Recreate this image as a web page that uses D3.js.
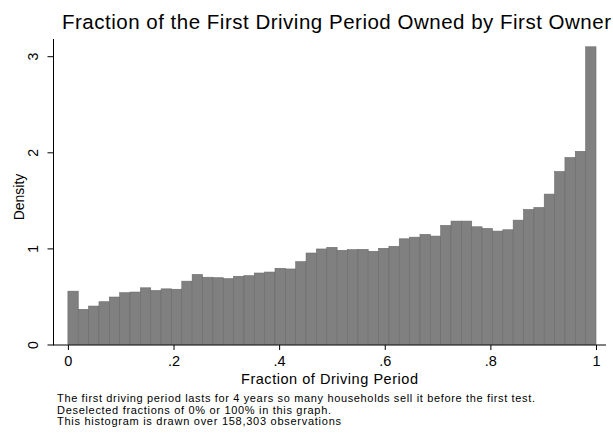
<!DOCTYPE html>
<html><head><meta charset="utf-8">
<script src="https://cdn.jsdelivr.net/npm/d3@7/dist/d3.min.js"></script>
<style>body{margin:0;background:#fff}svg{display:block;font-family:"Liberation Sans",Arial,Helvetica,sans-serif}</style>
</head><body><svg id="c" width="613" height="435"></svg>
<script>
const titleText = "Fraction of the First Driving Period Owned by First Owner";
const xTitle = "Fraction of Driving Period";
const yTitle = "Density";
const notes = ["The first driving period lasts for 4 years so many households sell it before the first test.",
  "Deselected fractions of 0% or 100% in this graph.",
  "This histogram is drawn over 158,303 observations"];
const xTicks = [0, 0.2, 0.4, 0.6, 0.8, 1];
const xTickLabels = ["0", ".2", ".4", ".6", ".8", "1"];
const yTicks = [0, 1, 2, 3];
const yTickLabels = ["0", "1", "2", "3"];
// density of each of 51 equal-width bins on [0,1]
const density = [0.555,0.366,0.400,0.445,0.494,0.539,0.546,0.590,0.562,0.579,
  0.575,0.659,0.729,0.700,0.695,0.685,0.710,0.716,0.744,0.754,
  0.793,0.786,0.862,0.952,0.994,1.011,0.980,0.987,0.990,0.970,
  1.001,1.022,1.100,1.117,1.146,1.128,1.239,1.284,1.284,1.225,
  1.208,1.180,1.194,1.294,1.405,1.426,1.565,1.800,1.946,2.010,3.098];

const svg = d3.select("#c");
const x = d3.scaleLinear().domain([0,1]).range([67.9,596]);
const y = d3.scaleLinear().domain([0,3]).range([344.5,56.2]);
const nb = density.length, w = 1/nb;

// bars
svg.append("g").selectAll("rect").data(density).join("rect")
  .attr("x",(d,i)=>x(i*w)).attr("width",(d,i)=>x((i+1)*w)-x(i*w))
  .attr("y",d=>y(d)).attr("height",d=>y(0)-y(d))
  .attr("fill","#808080").attr("stroke","#6a6a6a").attr("stroke-width",0.6);

// y axis
const yAxis = d3.axisLeft(y).tickValues(yTicks).tickFormat((d,i)=>yTickLabels[i]).tickSize(6).tickPadding(5);
const gy = svg.append("g").attr("transform","translate(53.5,0)").call(yAxis);
gy.select(".domain").remove();
gy.append("line").attr("x1",0).attr("x2",0).attr("y1",39).attr("y2",345).attr("stroke","#000");
gy.selectAll(".tick line").attr("stroke","#000");
gy.selectAll(".tick text").attr("font-size",14).attr("fill","#000")
  .attr("text-anchor","middle").attr("x",0).attr("dy",0)
  .attr("transform","translate(-16,0) rotate(-90)").attr("y",0);

// x axis
const xAxis = d3.axisBottom(x).tickValues(xTicks).tickFormat((d,i)=>xTickLabels[i]).tickSize(5).tickPadding(5);
const gx = svg.append("g").attr("transform","translate(0,345)").call(xAxis);
gx.select(".domain").remove();
gx.append("line").attr("x1",53).attr("x2",606).attr("y1",0).attr("y2",0).attr("stroke","#000");
gx.selectAll(".tick line").attr("stroke","#000");
gx.selectAll(".tick text").attr("font-size",14.5).attr("fill","#000").attr("dy",0).attr("y",21);

// titles
svg.append("text").attr("x",62).attr("y",29).attr("font-size",20.5).attr("fill","#000")
  .attr("textLength",549).attr("lengthAdjust","spacing").text(titleText);
svg.append("text").attr("x",241).attr("y",384).attr("font-size",14.5).attr("fill","#000")
  .attr("textLength",177).attr("lengthAdjust","spacing").text(xTitle);
svg.append("text").attr("transform","translate(24,197) rotate(-90)").attr("text-anchor","middle").attr("font-size",14).attr("fill","#000").text(yTitle);

// notes
const noteLens = [478, 274, 284];
svg.append("g").selectAll("text").data(notes).join("text")
  .attr("x",57).attr("y",(d,i)=>402+i*11.5).attr("font-size",11).attr("fill","#000")
  .attr("textLength",(d,i)=>noteLens[i]).attr("lengthAdjust","spacing").text(d=>d);
</script></body></html>
